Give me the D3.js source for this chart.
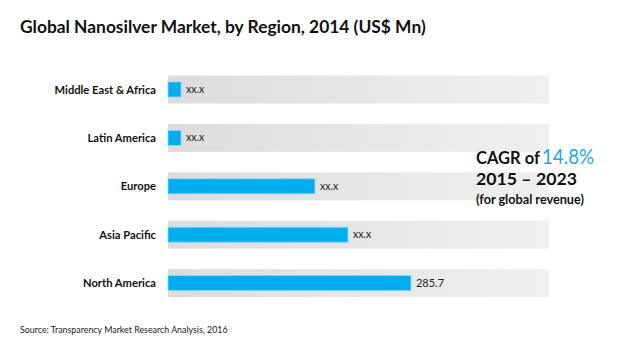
<!DOCTYPE html>
<html>
<head>
<meta charset="utf-8">
<script src="https://cdn.jsdelivr.net/npm/d3@7"></script>
<style>
  html, body { margin: 0; padding: 0; background: #fff; }
  svg { display: block; }
  text { font-family: Lato, "Open Sans", sans-serif; }
</style>
</head>
<body>
<svg id="chart" width="620" height="356"></svg>
<script>
// ---- data ----
const categories = ["Middle East & Africa", "Latin America", "Europe", "Asia Pacific", "North America"];
const values = [15.3, 15.3, 172.8, 211.6, 285.7];
const valueLabels = ["xx.x", "xx.x", "xx.x", "xx.x", "285.7"];
const trackMax = 448;
const titleText = "Global Nanosilver Market, by Region, 2014 (US$ Mn)";
const sourceText = "Source:  Transparency Market Research Analysis, 2016";
const cagrPrefix = "CAGR of";
const cagrValue = "14.8%";
const cagrPeriod = "2015 \u2013 2023";
const cagrNote = "(for global revenue)";

const svg = d3.select("#chart");

const defs = svg.append("defs");
const grad = defs.append("linearGradient").attr("id", "track").attr("x1", "0").attr("x2", "1").attr("y1", "0").attr("y2", "0");
grad.append("stop").attr("offset", "0").attr("stop-color", "#dcdcdc");
grad.append("stop").attr("offset", "1").attr("stop-color", "#f0f0f0");

const x = d3.scaleLinear().domain([0, trackMax]).range([168, 549]);
const y = d3.scaleBand().domain(categories).range([65.3, 307.3]).padding(0);

function fit(sel, width) {
  const w = sel.node().getComputedTextLength();
  const fs = parseFloat(sel.attr("font-size"));
  sel.attr("font-size", (fs * width / w).toFixed(2));
}

// title
const title = svg.append("text").attr("x", 20).attr("y", 33).attr("font-size", 16)
  .attr("font-weight", "bold").attr("fill", "#111").text(titleText);
fit(title, 406);

const rows = svg.append("g").selectAll("g").data(categories).join("g");
const cy = d => y(d) + y.bandwidth() / 2;

rows.append("rect")
  .attr("x", x(0)).attr("width", x(trackMax) - x(0))
  .attr("y", d => cy(d) - 14).attr("height", 28)
  .attr("fill", "url(#track)");

rows.append("rect")
  .attr("x", x(0)).attr("width", (d, i) => x(values[i]) - x(0))
  .attr("y", d => cy(d) - 7.5).attr("height", 15)
  .attr("fill", "#00aeef")
  .attr("stroke", "#8fd6f5").attr("stroke-width", 0.8);

rows.append("text")
  .attr("x", 156).attr("y", d => cy(d) + 4)
  .attr("text-anchor", "end").attr("font-size", 11.2).attr("font-weight", "bold")
  .attr("fill", "#111").text(d => d);

rows.append("text")
  .attr("x", (d, i) => x(values[i]) + 5).attr("y", d => cy(d) + 3.5)
  .attr("font-size", (d, i) => valueLabels[i] === "xx.x" ? 10.5 : 11)
  .attr("fill", "#222").text((d, i) => valueLabels[i]);

// CAGR annotation
const c1 = svg.append("text").attr("x", 476).attr("y", 164).attr("font-size", 17)
  .attr("font-weight", "bold").attr("fill", "#111").text(cagrPrefix);
fit(c1, 64);
svg.append("text").attr("x", 542).attr("y", 164)
  .attr("font-family", "'Liberation Sans Narrow', 'DejaVu Sans Condensed', sans-serif")
  .attr("font-size", 22).attr("fill", "#1aa9e6")
  .attr("textLength", 52).attr("lengthAdjust", "spacingAndGlyphs")
  .text(cagrValue);

const c2 = svg.append("text").attr("x", 476).attr("y", 185).attr("font-size", 17)
  .attr("font-weight", "bold").attr("fill", "#111").text(cagrPeriod);
fit(c2, 101);
const c3 = svg.append("text").attr("x", 476).attr("y", 204).attr("font-size", 12)
  .attr("font-weight", "bold").attr("fill", "#111").text(cagrNote);
fit(c3, 108);

// source
const src = svg.append("text").attr("x", 20).attr("y", 333).attr("font-size", 9.5)
  .attr("fill", "#222").text(sourceText);
fit(src, 208);
</script>
</body>
</html>
